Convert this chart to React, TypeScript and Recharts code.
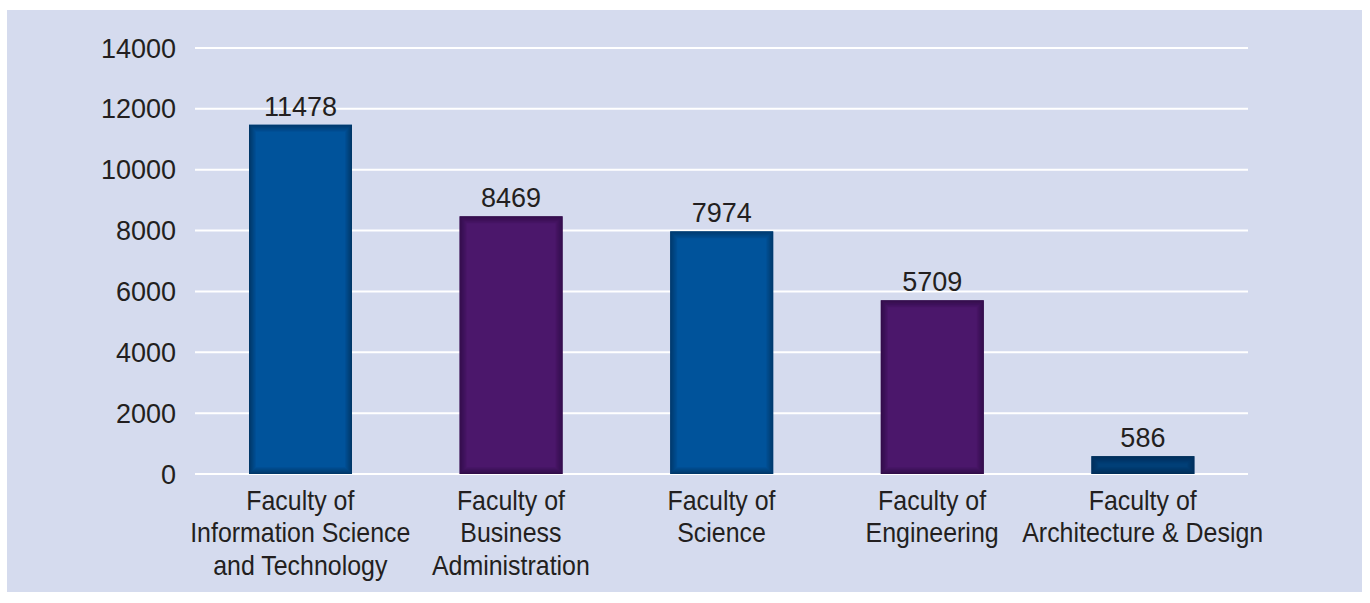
import React from 'react';
import { BarChart, Bar, XAxis, YAxis, CartesianGrid, LabelList, Cell } from 'recharts';

const categories = [
  'Faculty of\nInformation Science\nand Technology',
  'Faculty of\nBusiness\nAdministration',
  'Faculty of\nScience',
  'Faculty of\nEngineering',
  'Faculty of\nArchitecture & Design',
];
const students = [11478, 8469, 7974, 5709, 586];
const yTicks = [0, 2000, 4000, 6000, 8000, 10000, 12000, 14000];

const barColors = ['#00539b', '#4b176b', '#00539b', '#4b176b', '#013f77'];
const edgeColors = ['#00335f', '#2c0b42', '#00335f', '#2c0b42', '#002a52'];

const data = categories.map((name, i) => ({ name, value: students[i] }));

const textColor = '#231f20';

// bar with darkened bevel edges
const BevelBar = (props: any) => {
  const { x, y, width, height, index } = props;
  if (!height || height <= 0) return null;
  const rings = [];
  for (let i = 0; i < 7; i++) {
    if (width - 2 * i - 1 <= 0 || height - 2 * i - 1 <= 0) break;
    rings.push(
      <rect
        key={i}
        x={x + i + 0.5}
        y={y + i + 0.5}
        width={width - 2 * i - 1}
        height={height - 2 * i - 1}
        fill="none"
        stroke={edgeColors[index]}
        strokeOpacity={0.85 * (1 - i / 7)}
      />
    );
  }
  return (
    <g>
      <rect x={x} y={y} width={width} height={height} fill={barColors[index]} />
      {rings}
    </g>
  );
};

// condensed multi-line category label
const CategoryTick = ({ x, y, payload }: any) => {
  const lines = String(payload.value).split('\n');
  return (
    <g transform={`translate(${x},${y + 36}) scale(0.89,1)`}>
      <text
        x={0}
        y={0}
        textAnchor="middle"
        fill={textColor}
        fontSize={28}
        fontFamily="'Liberation Sans', Arial, sans-serif"
      >
        {lines.map((l, i) => (
          <tspan key={i} x={0} dy={i === 0 ? 0 : 32.5}>
            {l}
          </tspan>
        ))}
      </text>
    </g>
  );
};

export default function App() {
  return (
    <div
      style={{
        position: 'absolute',
        left: 7,
        top: 10,
        width: 1355,
        height: 582,
        background: '#d5dbee',
      }}
    >
      <BarChart
        width={1355}
        height={582}
        data={data}
        margin={{ top: 38, right: 114, left: 0, bottom: 0 }}
        barSize={103}
      >
        <CartesianGrid vertical={false} stroke="#ffffff" strokeWidth={2} />
        <XAxis
          dataKey="name"
          axisLine={false}
          tickLine={false}
          tickSize={0}
          tickMargin={0}
          height={118}
          interval={0}
          tick={<CategoryTick />}
        />
        <YAxis
          width={188}
          domain={[0, 14000]}
          ticks={yTicks}
          axisLine={false}
          tickLine={false}
          tickSize={0}
          tickMargin={19}
          tick={{ fill: textColor, fontSize: 27, fontFamily: "'Liberation Sans', Arial, sans-serif" }}
        />
        <Bar dataKey="value" shape={<BevelBar />} isAnimationActive={false}>
          {data.map((d, i) => (
            <Cell key={d.name} fill={barColors[i]} />
          ))}
          <LabelList
            dataKey="value"
            position="top"
            offset={9}
            fill={textColor}
            fontSize={27}
            fontFamily="'Liberation Sans', Arial, sans-serif"
          />
        </Bar>
      </BarChart>
    </div>
  );
}
